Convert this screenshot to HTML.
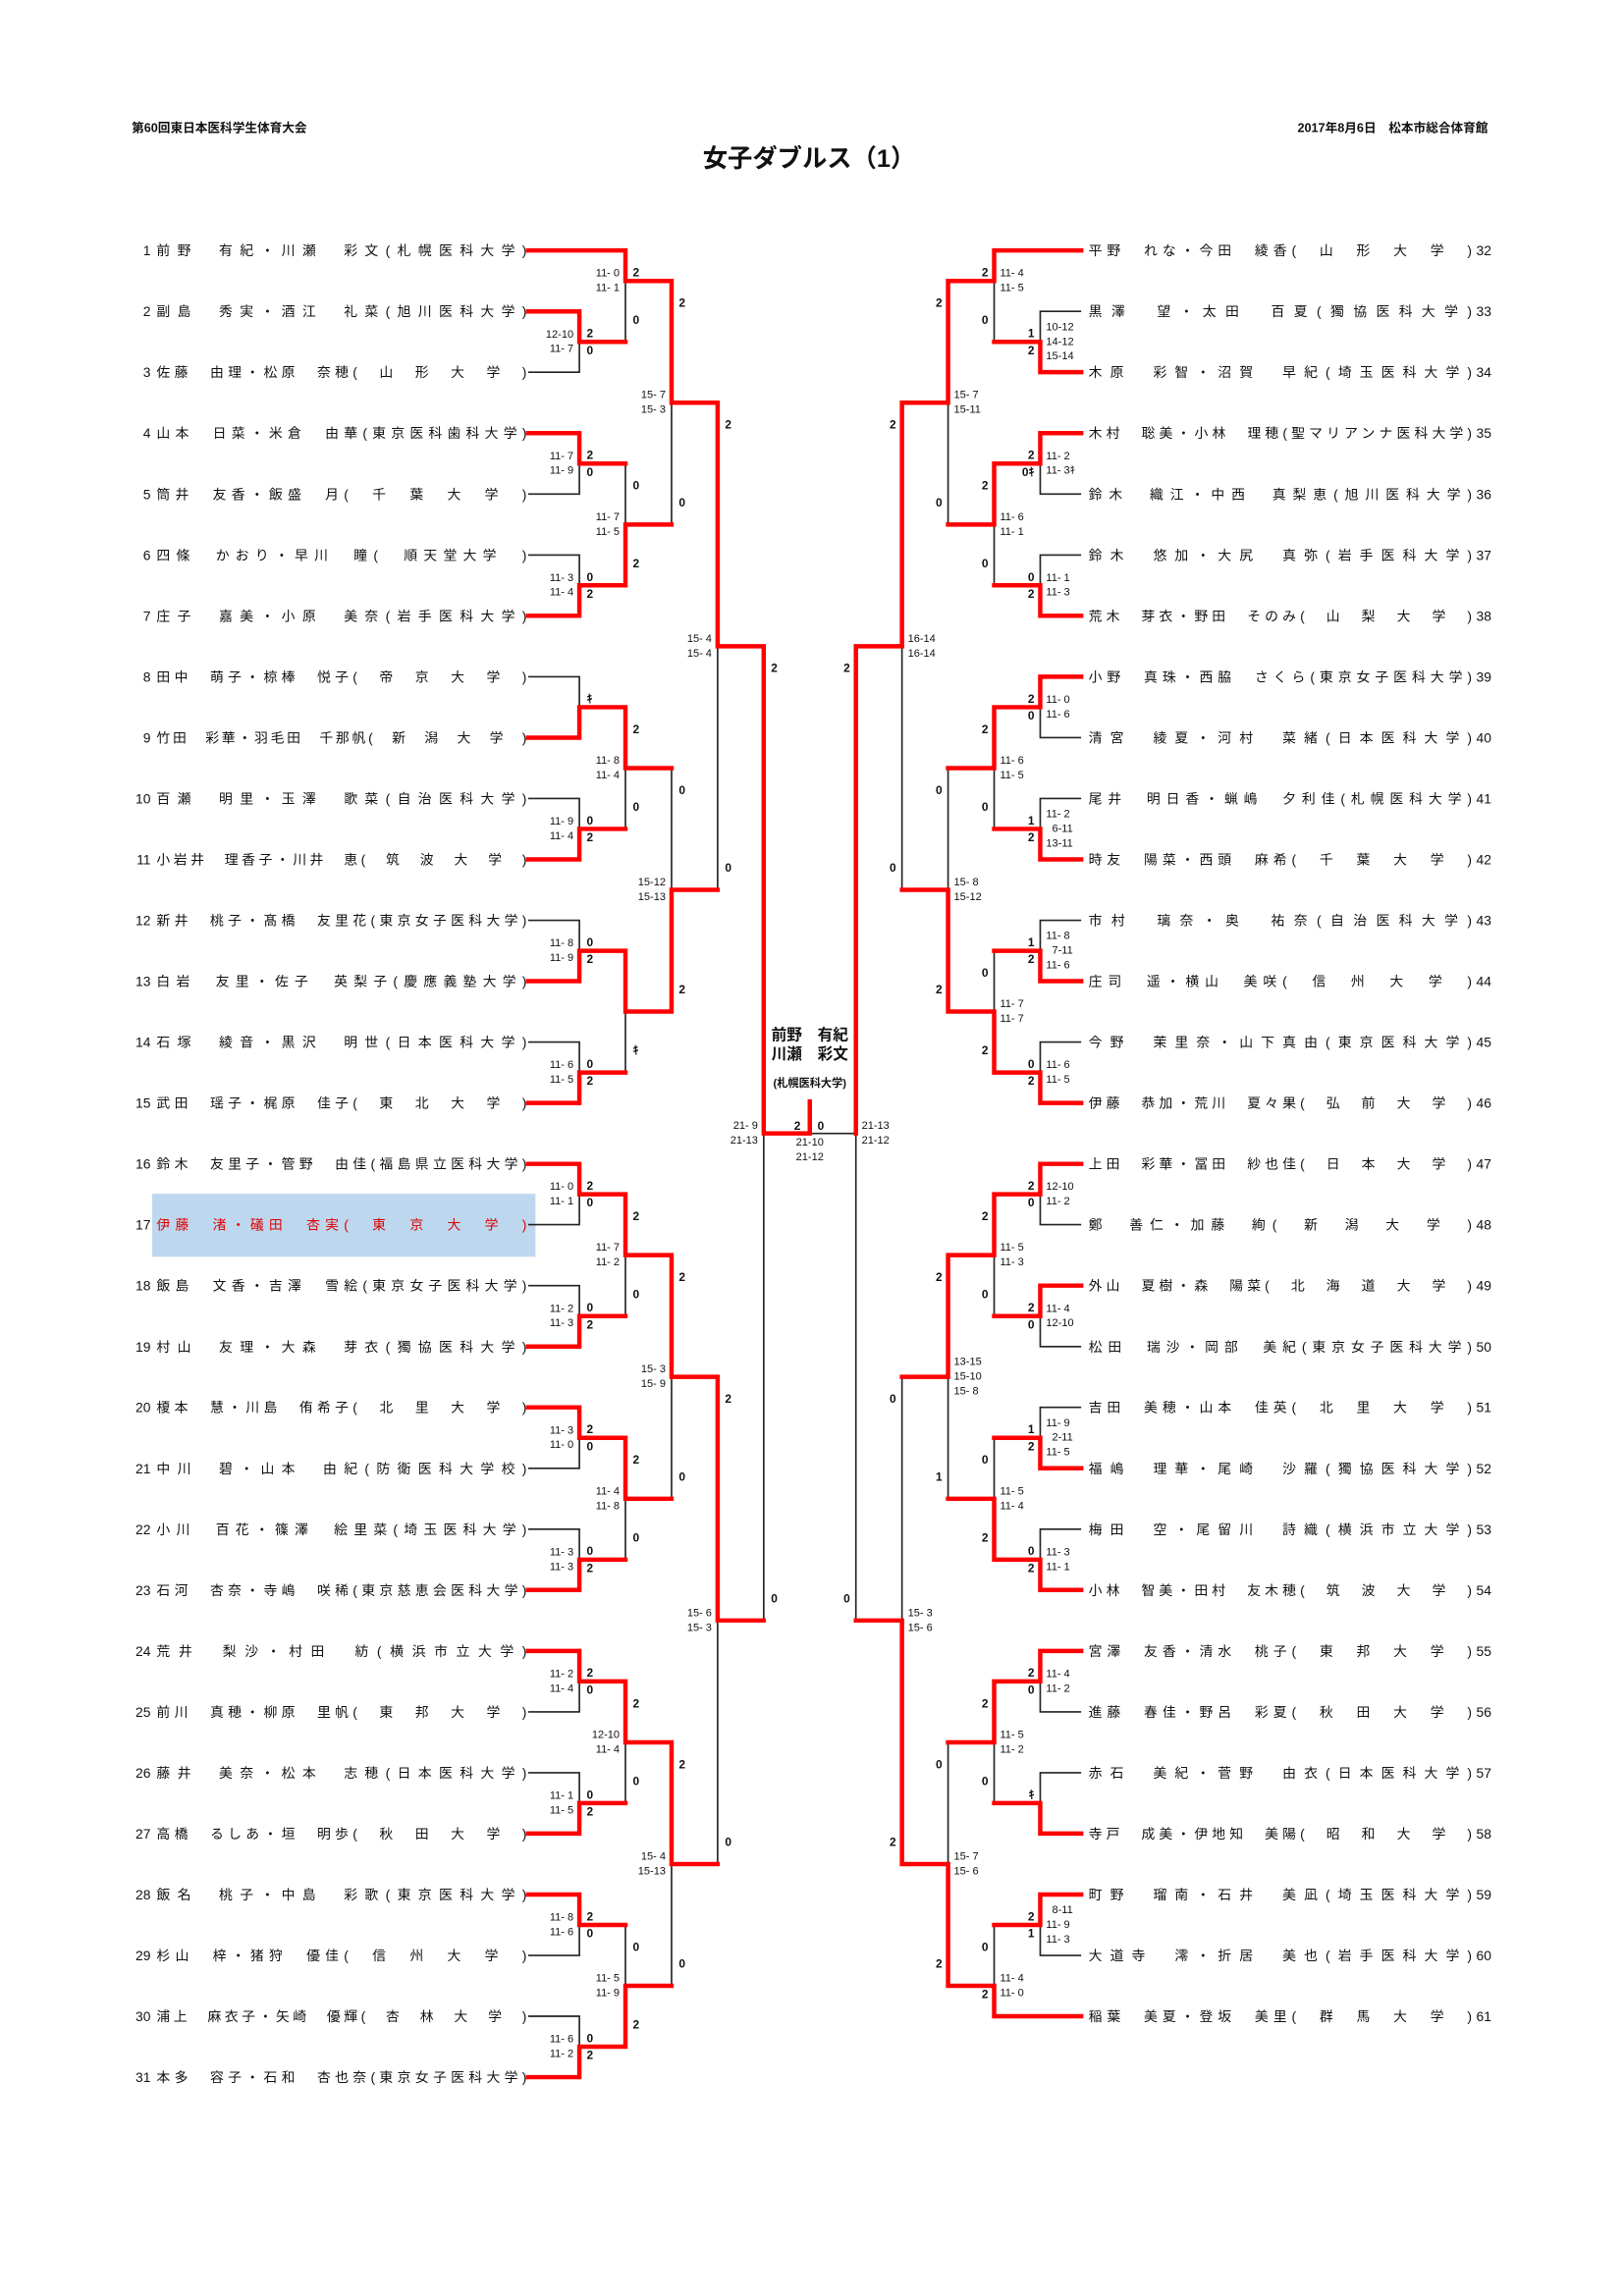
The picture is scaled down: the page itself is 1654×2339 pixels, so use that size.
<!DOCTYPE html>
<html><head><meta charset="utf-8"><style>
html,body{margin:0;padding:0;background:#fff;}
svg{display:block}
text{font-family:"Liberation Sans","Noto Sans CJK JP",sans-serif;fill:#111;white-space:pre}
.n{font-size:9.3px}
.s{font-size:7.4px;dominant-baseline:central}
.c{font-size:8px;font-weight:bold;dominant-baseline:central}
.e{text-anchor:end}
.m{text-anchor:middle}
.bk{fill:none;stroke:#222;stroke-width:1.1}
.rd{fill:none;stroke:#f00;stroke-width:3;stroke-linejoin:miter;stroke-linecap:square}
</style></head><body>
<svg width="1654" height="2339" viewBox="0 0 1110 1567.5" preserveAspectRatio="none" xmlns="http://www.w3.org/2000/svg">
<rect x="0" y="0" width="1110" height="1567.5" fill="#fff"/>
<text x="90" y="90" style="font-size:8.5px;font-weight:bold">第60回東日本医科学生体育大会</text>
<text x="1017" y="90" class="e" style="font-size:8.5px;font-weight:bold">2017年8月6日　松本市総合体育館</text>
<text x="553" y="114" class="m" style="font-size:17px;font-weight:bold">女子ダブルス（1）</text>

<rect x="104" y="815" width="262" height="43" fill="#bdd7ee"/>

<path class="bk" d="
M361 254.1H396V233.4 M361 337.3H396V316.5 M361 378.9H396V399.6 M361 462H396V482.8 M361 545.1H396V565.9 M361 628.3H396V649.1 M361 711.4H396V732.2 M361 836.1H396V815.3 M361 877.7H396V898.5 M361 1002.4H396V981.6 M361 1044H396V1064.8 M361 1168.7H396V1147.9 M361 1210.3H396V1231 M361 1335H396V1314.2 M361 1376.5H396V1397.3
M427.5 233.4V191.8 M427.5 316.5V358.1 M427.5 565.9V524.4 M427.5 732.2V690.6 M427.5 898.5V856.9 M427.5 1064.8V1023.2 M427.5 1231V1189.5 M427.5 1314.2V1355.7
M459 358.1V274.9 M459 524.4V607.5 M459 1023.2V940 M459 1355.7V1272.6
M490.5 607.5V441.2 M490.5 1272.6V1106.3
M522 1106.3V773.8
M585 1106.3V773.8H553.5
M616.5 607.5V441.2 M616.5 940V1106.3
M648 358.1V274.9 M648 524.4V607.5 M648 1023.2V940 M648 1189.5V1272.6
M679.5 233.4V191.8 M679.5 399.6V358.1 M679.5 565.9V524.4 M679.5 649.1V690.6 M679.5 898.5V856.9 M679.5 981.6V1023.2 M679.5 1231V1189.5 M679.5 1314.2V1355.7
M739 212.6H711V233.4 M739 337.3H711V316.5 M739 378.9H711V399.6 M739 503.6H711V482.8 M739 545.1H711V565.9 M739 628.3H711V649.1 M739 711.4H711V732.2 M739 836.1H711V815.3 M739 919.3H711V898.5 M739 960.8H711V981.6 M739 1044H711V1064.8 M739 1168.7H711V1147.9 M739 1210.3H711V1231 M739 1335H711V1314.2
"/>
<path class="rd" d="
M361 212.6H396V233.4H427.5 M361 295.7H396V316.5H427.5 M361 420.4H396V399.6H427.5 M361 503.6H396V482.8H427.5 M361 586.7H396V565.9H427.5 M361 669.8H396V649.1H427.5 M361 753H396V732.2H427.5 M361 794.6H396V815.3H427.5 M361 919.3H396V898.5H427.5 M361 960.8H396V981.6H427.5 M361 1085.5H396V1064.8H427.5 M361 1127.1H396V1147.9H427.5 M361 1251.8H396V1231H427.5 M361 1293.4H396V1314.2H427.5 M361 1418.1H396V1397.3H427.5
M361 171H427.5V191.8H459 M427.5 399.6V358.1H459 M427.5 482.8V524.4H459 M427.5 649.1V690.6H459 M427.5 815.3V856.9H459 M427.5 981.6V1023.2H459 M427.5 1147.9V1189.5H459 M427.5 1397.3V1355.7H459
M459 191.8V274.9H490.5 M459 690.6V607.5H490.5 M459 856.9V940H490.5 M459 1189.5V1272.6H490.5
M490.5 274.9V441.2H522 M490.5 940V1106.3H522
M522 441.2V773.8H553.5V752
M585 441.2V773.8
M616.5 274.9V441.2H585 M616.5 1272.6V1106.3H585
M648 191.8V274.9H616.5 M648 690.6V607.5H616.5 M648 856.9V940H616.5 M648 1355.7V1272.6H616.5
M739 171H679.5V191.8H648 M679.5 316.5V358.1H648 M679.5 482.8V524.4H648 M679.5 732.2V690.6H648 M679.5 815.3V856.9H648 M679.5 1064.8V1023.2H648 M679.5 1147.9V1189.5H648 M739 1376.5H679.5V1355.7H648
M739 254.1H711V233.4H679.5 M739 295.7H711V316.5H679.5 M739 420.4H711V399.6H679.5 M739 462H711V482.8H679.5 M739 586.7H711V565.9H679.5 M739 669.8H711V649.1H679.5 M739 753H711V732.2H679.5 M739 794.6H711V815.3H679.5 M739 877.7H711V898.5H679.5 M739 1002.4H711V981.6H679.5 M739 1085.5H711V1064.8H679.5 M739 1127.1H711V1147.9H679.5 M739 1251.8H711V1231H679.5 M739 1293.4H711V1314.2H679.5
"/>

<g class="n" style="dominant-baseline:central">
<text x="103" y="171" class="e">1</text><text x="107" y="171" textLength="253" lengthAdjust="spacing">前野　有紀・川瀬　彩文(札幌医科大学)</text>
<text x="103" y="212.6" class="e">2</text><text x="107" y="212.6" textLength="253" lengthAdjust="spacing">副島　秀実・酒江　礼菜(旭川医科大学)</text>
<text x="103" y="254.1" class="e">3</text><text x="107" y="254.1" textLength="253" lengthAdjust="spacing">佐藤　由理・松原　奈穂(　山　形　大　学　)</text>
<text x="103" y="295.7" class="e">4</text><text x="107" y="295.7" textLength="253" lengthAdjust="spacing">山本　日菜・米倉　由華(東京医科歯科大学)</text>
<text x="103" y="337.3" class="e">5</text><text x="107" y="337.3" textLength="253" lengthAdjust="spacing">筒井　友香・飯盛　月(　千　葉　大　学　)</text>
<text x="103" y="378.9" class="e">6</text><text x="107" y="378.9" textLength="253" lengthAdjust="spacing">四條　かおり・早川　瞳(　順天堂大学　)</text>
<text x="103" y="420.4" class="e">7</text><text x="107" y="420.4" textLength="253" lengthAdjust="spacing">庄子　嘉美・小原　美奈(岩手医科大学)</text>
<text x="103" y="462" class="e">8</text><text x="107" y="462" textLength="253" lengthAdjust="spacing">田中　萌子・椋棒　悦子(　帝　京　大　学　)</text>
<text x="103" y="503.6" class="e">9</text><text x="107" y="503.6" textLength="253" lengthAdjust="spacing">竹田　彩華・羽毛田　千那帆(　新　潟　大　学　)</text>
<text x="103" y="545.1" class="e">10</text><text x="107" y="545.1" textLength="253" lengthAdjust="spacing">百瀬　明里・玉澤　歌菜(自治医科大学)</text>
<text x="103" y="586.7" class="e">11</text><text x="107" y="586.7" textLength="253" lengthAdjust="spacing">小岩井　理香子・川井　恵(　筑　波　大　学　)</text>
<text x="103" y="628.3" class="e">12</text><text x="107" y="628.3" textLength="253" lengthAdjust="spacing">新井　桃子・髙橋　友里花(東京女子医科大学)</text>
<text x="103" y="669.8" class="e">13</text><text x="107" y="669.8" textLength="253" lengthAdjust="spacing">白岩　友里・佐子　英梨子(慶應義塾大学)</text>
<text x="103" y="711.4" class="e">14</text><text x="107" y="711.4" textLength="253" lengthAdjust="spacing">石塚　綾音・黒沢　明世(日本医科大学)</text>
<text x="103" y="753" class="e">15</text><text x="107" y="753" textLength="253" lengthAdjust="spacing">武田　瑶子・梶原　佳子(　東　北　大　学　)</text>
<text x="103" y="794.6" class="e">16</text><text x="107" y="794.6" textLength="253" lengthAdjust="spacing">鈴木　友里子・管野　由佳(福島県立医科大学)</text>
<text x="103" y="836.1" class="e">17</text><text x="107" y="836.1" textLength="253" lengthAdjust="spacing" style="fill:#e00000">伊藤　渚・礒田　杏実(　東　京　大　学　)</text>
<text x="103" y="877.7" class="e">18</text><text x="107" y="877.7" textLength="253" lengthAdjust="spacing">飯島　文香・吉澤　雪絵(東京女子医科大学)</text>
<text x="103" y="919.3" class="e">19</text><text x="107" y="919.3" textLength="253" lengthAdjust="spacing">村山　友理・大森　芽衣(獨協医科大学)</text>
<text x="103" y="960.8" class="e">20</text><text x="107" y="960.8" textLength="253" lengthAdjust="spacing">榎本　慧・川島　侑希子(　北　里　大　学　)</text>
<text x="103" y="1002.4" class="e">21</text><text x="107" y="1002.4" textLength="253" lengthAdjust="spacing">中川　碧・山本　由紀(防衛医科大学校)</text>
<text x="103" y="1044" class="e">22</text><text x="107" y="1044" textLength="253" lengthAdjust="spacing">小川　百花・篠澤　絵里菜(埼玉医科大学)</text>
<text x="103" y="1085.5" class="e">23</text><text x="107" y="1085.5" textLength="253" lengthAdjust="spacing">石河　杏奈・寺嶋　咲稀(東京慈恵会医科大学)</text>
<text x="103" y="1127.1" class="e">24</text><text x="107" y="1127.1" textLength="253" lengthAdjust="spacing">荒井　梨沙・村田　紡(横浜市立大学)</text>
<text x="103" y="1168.7" class="e">25</text><text x="107" y="1168.7" textLength="253" lengthAdjust="spacing">前川　真穂・柳原　里帆(　東　邦　大　学　)</text>
<text x="103" y="1210.3" class="e">26</text><text x="107" y="1210.3" textLength="253" lengthAdjust="spacing">藤井　美奈・松本　志穂(日本医科大学)</text>
<text x="103" y="1251.8" class="e">27</text><text x="107" y="1251.8" textLength="253" lengthAdjust="spacing">高橋　るしあ・垣　明歩(　秋　田　大　学　)</text>
<text x="103" y="1293.4" class="e">28</text><text x="107" y="1293.4" textLength="253" lengthAdjust="spacing">飯名　桃子・中島　彩歌(東京医科大学)</text>
<text x="103" y="1335" class="e">29</text><text x="107" y="1335" textLength="253" lengthAdjust="spacing">杉山　梓・猪狩　優佳(　信　州　大　学　)</text>
<text x="103" y="1376.5" class="e">30</text><text x="107" y="1376.5" textLength="253" lengthAdjust="spacing">浦上　麻衣子・矢崎　優輝(　杏　林　大　学　)</text>
<text x="103" y="1418.1" class="e">31</text><text x="107" y="1418.1" textLength="253" lengthAdjust="spacing">本多　容子・石和　杏也奈(東京女子医科大学)</text>
</g>

<g class="n" style="dominant-baseline:central">
<text x="744" y="171" textLength="262" lengthAdjust="spacing">平野　れな・今田　綾香(　山　形　大　学　)</text><text x="1009" y="171">32</text>
<text x="744" y="212.6" textLength="262" lengthAdjust="spacing">黒澤　望・太田　百夏(獨協医科大学)</text><text x="1009" y="212.6">33</text>
<text x="744" y="254.1" textLength="262" lengthAdjust="spacing">木原　彩智・沼賀　早紀(埼玉医科大学)</text><text x="1009" y="254.1">34</text>
<text x="744" y="295.7" textLength="262" lengthAdjust="spacing">木村　聡美・小林　理穂(聖マリアンナ医科大学)</text><text x="1009" y="295.7">35</text>
<text x="744" y="337.3" textLength="262" lengthAdjust="spacing">鈴木　織江・中西　真梨恵(旭川医科大学)</text><text x="1009" y="337.3">36</text>
<text x="744" y="378.9" textLength="262" lengthAdjust="spacing">鈴木　悠加・大尻　真弥(岩手医科大学)</text><text x="1009" y="378.9">37</text>
<text x="744" y="420.4" textLength="262" lengthAdjust="spacing">荒木　芽衣・野田　そのみ(　山　梨　大　学　)</text><text x="1009" y="420.4">38</text>
<text x="744" y="462" textLength="262" lengthAdjust="spacing">小野　真珠・西脇　さくら(東京女子医科大学)</text><text x="1009" y="462">39</text>
<text x="744" y="503.6" textLength="262" lengthAdjust="spacing">清宮　綾夏・河村　菜緒(日本医科大学)</text><text x="1009" y="503.6">40</text>
<text x="744" y="545.1" textLength="262" lengthAdjust="spacing">尾井　明日香・蝋嶋　夕利佳(札幌医科大学)</text><text x="1009" y="545.1">41</text>
<text x="744" y="586.7" textLength="262" lengthAdjust="spacing">時友　陽菜・西頭　麻希(　千　葉　大　学　)</text><text x="1009" y="586.7">42</text>
<text x="744" y="628.3" textLength="262" lengthAdjust="spacing">市村　璃奈・奥　祐奈(自治医科大学)</text><text x="1009" y="628.3">43</text>
<text x="744" y="669.8" textLength="262" lengthAdjust="spacing">庄司　遥・横山　美咲(　信　州　大　学　)</text><text x="1009" y="669.8">44</text>
<text x="744" y="711.4" textLength="262" lengthAdjust="spacing">今野　茉里奈・山下真由(東京医科大学)</text><text x="1009" y="711.4">45</text>
<text x="744" y="753" textLength="262" lengthAdjust="spacing">伊藤　恭加・荒川　夏々果(　弘　前　大　学　)</text><text x="1009" y="753">46</text>
<text x="744" y="794.6" textLength="262" lengthAdjust="spacing">上田　彩華・冨田　紗也佳(　日　本　大　学　)</text><text x="1009" y="794.6">47</text>
<text x="744" y="836.1" textLength="262" lengthAdjust="spacing">鄭　善仁・加藤　絢(　新　潟　大　学　)</text><text x="1009" y="836.1">48</text>
<text x="744" y="877.7" textLength="262" lengthAdjust="spacing">外山　夏樹・森　陽菜(　北　海　道　大　学　)</text><text x="1009" y="877.7">49</text>
<text x="744" y="919.3" textLength="262" lengthAdjust="spacing">松田　瑞沙・岡部　美紀(東京女子医科大学)</text><text x="1009" y="919.3">50</text>
<text x="744" y="960.8" textLength="262" lengthAdjust="spacing">吉田　美穂・山本　佳英(　北　里　大　学　)</text><text x="1009" y="960.8">51</text>
<text x="744" y="1002.4" textLength="262" lengthAdjust="spacing">福嶋　理華・尾崎　沙羅(獨協医科大学)</text><text x="1009" y="1002.4">52</text>
<text x="744" y="1044" textLength="262" lengthAdjust="spacing">梅田　空・尾留川　詩織(横浜市立大学)</text><text x="1009" y="1044">53</text>
<text x="744" y="1085.5" textLength="262" lengthAdjust="spacing">小林　智美・田村　友木穂(　筑　波　大　学　)</text><text x="1009" y="1085.5">54</text>
<text x="744" y="1127.1" textLength="262" lengthAdjust="spacing">宮澤　友香・清水　桃子(　東　邦　大　学　)</text><text x="1009" y="1127.1">55</text>
<text x="744" y="1168.7" textLength="262" lengthAdjust="spacing">進藤　春佳・野呂　彩夏(　秋　田　大　学　)</text><text x="1009" y="1168.7">56</text>
<text x="744" y="1210.3" textLength="262" lengthAdjust="spacing">赤石　美紀・菅野　由衣(日本医科大学)</text><text x="1009" y="1210.3">57</text>
<text x="744" y="1251.8" textLength="262" lengthAdjust="spacing">寺戸　成美・伊地知　美陽(　昭　和　大　学　)</text><text x="1009" y="1251.8">58</text>
<text x="744" y="1293.4" textLength="262" lengthAdjust="spacing">町野　瑠南・石井　美凪(埼玉医科大学)</text><text x="1009" y="1293.4">59</text>
<text x="744" y="1335" textLength="262" lengthAdjust="spacing">大道寺　澪・折居　美也(岩手医科大学)</text><text x="1009" y="1335">60</text>
<text x="744" y="1376.5" textLength="262" lengthAdjust="spacing">稲葉　美夏・登坂　美里(　群　馬　大　学　)</text><text x="1009" y="1376.5">61</text>
</g>

<g class="s e">
<text x="392" y="228.4">12-10</text><text x="392" y="238.4">11- 7</text>
<text x="392" y="311.5">11- 7</text><text x="392" y="321.5">11- 9</text>
<text x="392" y="394.6">11- 3</text><text x="392" y="404.6">11- 4</text>
<text x="392" y="560.9">11- 9</text><text x="392" y="570.9">11- 4</text>
<text x="392" y="644.1">11- 8</text><text x="392" y="654.1">11- 9</text>
<text x="392" y="727.2">11- 6</text><text x="392" y="737.2">11- 5</text>
<text x="392" y="810.3">11- 0</text><text x="392" y="820.3">11- 1</text>
<text x="392" y="893.5">11- 2</text><text x="392" y="903.5">11- 3</text>
<text x="392" y="976.6">11- 3</text><text x="392" y="986.6">11- 0</text>
<text x="392" y="1059.8">11- 3</text><text x="392" y="1069.8">11- 3</text>
<text x="392" y="1142.9">11- 2</text><text x="392" y="1152.9">11- 4</text>
<text x="392" y="1226">11- 1</text><text x="392" y="1236">11- 5</text>
<text x="392" y="1309.2">11- 8</text><text x="392" y="1319.2">11- 6</text>
<text x="392" y="1392.3">11- 6</text><text x="392" y="1402.3">11- 2</text>
<text x="423.5" y="186.8">11- 0</text><text x="423.5" y="196.8">11- 1</text>
<text x="423.5" y="353.1">11- 7</text><text x="423.5" y="363.1">11- 5</text>
<text x="423.5" y="519.4">11- 8</text><text x="423.5" y="529.4">11- 4</text>
<text x="423.5" y="851.9">11- 7</text><text x="423.5" y="861.9">11- 2</text>
<text x="423.5" y="1018.2">11- 4</text><text x="423.5" y="1028.2">11- 8</text>
<text x="423.5" y="1184.5">12-10</text><text x="423.5" y="1194.5">11- 4</text>
<text x="423.5" y="1350.7">11- 5</text><text x="423.5" y="1360.7">11- 9</text>
<text x="455" y="269.9">15- 7</text><text x="455" y="279.9">15- 3</text>
<text x="455" y="602.5">15-12</text><text x="455" y="612.5">15-13</text>
<text x="455" y="935">15- 3</text><text x="455" y="945">15- 9</text>
<text x="455" y="1267.6">15- 4</text><text x="455" y="1277.6">15-13</text>
<text x="486.5" y="436.2">15- 4</text><text x="486.5" y="446.2">15- 4</text>
<text x="486.5" y="1101.3">15- 6</text><text x="486.5" y="1111.3">15- 3</text>
<text x="518" y="768.8">21- 9</text><text x="518" y="778.8">21-13</text>
</g>
<g class="c">
<text x="401" y="227.6">2</text><text x="401" y="239.1">0</text>
<text x="401" y="310.7">2</text><text x="401" y="322.3">0</text>
<text x="401" y="393.9">0</text><text x="401" y="405.4">2</text>
<text x="401" y="477">ｷ</text>
<text x="401" y="560.1">0</text><text x="401" y="571.7">2</text>
<text x="401" y="643.3">0</text><text x="401" y="654.8">2</text>
<text x="401" y="726.4">0</text><text x="401" y="738">2</text>
<text x="401" y="809.6">2</text><text x="401" y="821.1">0</text>
<text x="401" y="892.7">0</text><text x="401" y="904.3">2</text>
<text x="401" y="975.8">2</text><text x="401" y="987.4">0</text>
<text x="401" y="1059">0</text><text x="401" y="1070.5">2</text>
<text x="401" y="1142.1">2</text><text x="401" y="1153.7">0</text>
<text x="401" y="1225.3">0</text><text x="401" y="1236.8">2</text>
<text x="401" y="1308.4">2</text><text x="401" y="1320">0</text>
<text x="401" y="1391.5">0</text><text x="401" y="1403.1">2</text>
<text x="432.5" y="186">2</text><text x="432.5" y="218.4">0</text>
<text x="432.5" y="331.5">0</text><text x="432.5" y="384.6">2</text>
<text x="432.5" y="497.8">2</text><text x="432.5" y="550.9">0</text>
<text x="432.5" y="717.2">ｷ</text>
<text x="432.5" y="830.3">2</text><text x="432.5" y="883.5">0</text>
<text x="432.5" y="996.6">2</text><text x="432.5" y="1049.8">0</text>
<text x="432.5" y="1162.9">2</text><text x="432.5" y="1216">0</text>
<text x="432.5" y="1329.2">0</text><text x="432.5" y="1382.3">2</text>
<text x="464" y="206.8">2</text><text x="464" y="343.1">0</text>
<text x="464" y="539.4">0</text><text x="464" y="675.6">2</text>
<text x="464" y="871.9">2</text><text x="464" y="1008.2">0</text>
<text x="464" y="1204.5">2</text><text x="464" y="1340.7">0</text>
<text x="495.5" y="289.9">2</text><text x="495.5" y="592.5">0</text>
<text x="495.5" y="955">2</text><text x="495.5" y="1257.6">0</text>
<text x="527" y="456.2">2</text><text x="527" y="1091.3">0</text>
</g>

<g class="s">
<text x="589" y="768.8">21-13</text><text x="589" y="778.8">21-12</text>
<text x="620.5" y="436.2">16-14</text><text x="620.5" y="446.2">16-14</text>
<text x="620.5" y="1101.3">15- 3</text><text x="620.5" y="1111.3">15- 6</text>
<text x="652" y="269.9">15- 7</text><text x="652" y="279.9">15-11</text>
<text x="652" y="602.5">15- 8</text><text x="652" y="612.5">15-12</text>
<text x="652" y="930">13-15</text><text x="652" y="940">15-10</text><text x="652" y="950">15- 8</text>
<text x="652" y="1267.6">15- 7</text><text x="652" y="1277.6">15- 6</text>
<text x="683.5" y="186.8">11- 4</text><text x="683.5" y="196.8">11- 5</text>
<text x="683.5" y="353.1">11- 6</text><text x="683.5" y="363.1">11- 1</text>
<text x="683.5" y="519.4">11- 6</text><text x="683.5" y="529.4">11- 5</text>
<text x="683.5" y="685.6">11- 7</text><text x="683.5" y="695.6">11- 7</text>
<text x="683.5" y="851.9">11- 5</text><text x="683.5" y="861.9">11- 3</text>
<text x="683.5" y="1018.2">11- 5</text><text x="683.5" y="1028.2">11- 4</text>
<text x="683.5" y="1184.5">11- 5</text><text x="683.5" y="1194.5">11- 2</text>
<text x="683.5" y="1350.7">11- 4</text><text x="683.5" y="1360.7">11- 0</text>
<text x="715" y="223.4">10-12</text><text x="715" y="233.4">14-12</text><text x="715" y="243.4">15-14</text>
<text x="715" y="311.5">11- 2</text><text x="715" y="321.5">11- 3ｷ</text>
<text x="715" y="394.6">11- 1</text><text x="715" y="404.6">11- 3</text>
<text x="715" y="477.8">11- 0</text><text x="715" y="487.8">11- 6</text>
<text x="715" y="555.9">11- 2</text><text x="715" y="565.9">  6-11</text><text x="715" y="575.9">13-11</text>
<text x="715" y="639.1">11- 8</text><text x="715" y="649.1">  7-11</text><text x="715" y="659.1">11- 6</text>
<text x="715" y="727.2">11- 6</text><text x="715" y="737.2">11- 5</text>
<text x="715" y="810.3">12-10</text><text x="715" y="820.3">11- 2</text>
<text x="715" y="893.5">11- 4</text><text x="715" y="903.5">12-10</text>
<text x="715" y="971.6">11- 9</text><text x="715" y="981.6">  2-11</text><text x="715" y="991.6">11- 5</text>
<text x="715" y="1059.8">11- 3</text><text x="715" y="1069.8">11- 1</text>
<text x="715" y="1142.9">11- 4</text><text x="715" y="1152.9">11- 2</text>
<text x="715" y="1304.2">  8-11</text><text x="715" y="1314.2">11- 9</text><text x="715" y="1324.2">11- 3</text>
</g>
<g class="c e">
<text x="581" y="456.2">2</text><text x="581" y="1091.3">0</text>
<text x="612.5" y="289.9">2</text><text x="612.5" y="592.5">0</text>
<text x="612.5" y="955">0</text><text x="612.5" y="1257.6">2</text>
<text x="644" y="206.8">2</text><text x="644" y="343.1">0</text>
<text x="644" y="539.4">0</text><text x="644" y="675.6">2</text>
<text x="644" y="871.9">2</text><text x="644" y="1008.2">1</text>
<text x="644" y="1204.5">0</text><text x="644" y="1340.7">2</text>
<text x="675.5" y="186">2</text><text x="675.5" y="218.4">0</text>
<text x="675.5" y="331.5">2</text><text x="675.5" y="384.6">0</text>
<text x="675.5" y="497.8">2</text><text x="675.5" y="550.9">0</text>
<text x="675.5" y="664.1">0</text><text x="675.5" y="717.2">2</text>
<text x="675.5" y="830.3">2</text><text x="675.5" y="883.5">0</text>
<text x="675.5" y="996.6">0</text><text x="675.5" y="1049.8">2</text>
<text x="675.5" y="1162.9">2</text><text x="675.5" y="1216">0</text>
<text x="675.5" y="1329.2">0</text><text x="675.5" y="1361.5">2</text>
<text x="707" y="227.6">1</text><text x="707" y="239.1">2</text>
<text x="707" y="310.7">2</text><text x="707" y="322.3">0ｷ</text>
<text x="707" y="393.9">0</text><text x="707" y="405.4">2</text>
<text x="707" y="477">2</text><text x="707" y="488.6">0</text>
<text x="707" y="560.1">1</text><text x="707" y="571.7">2</text>
<text x="707" y="643.3">1</text><text x="707" y="654.8">2</text>
<text x="707" y="726.4">0</text><text x="707" y="738">2</text>
<text x="707" y="809.6">2</text><text x="707" y="821.1">0</text>
<text x="707" y="892.7">2</text><text x="707" y="904.3">0</text>
<text x="707" y="975.8">1</text><text x="707" y="987.4">2</text>
<text x="707" y="1059">0</text><text x="707" y="1070.5">2</text>
<text x="707" y="1142.1">2</text><text x="707" y="1153.7">0</text>
<text x="707" y="1225.3">ｷ</text>
<text x="707" y="1308.4">2</text><text x="707" y="1320">1</text>
</g>

<text x="553.5" y="710" class="m" style="font-size:10.5px;font-weight:bold">前野　有紀</text>
<text x="553.5" y="723" class="m" style="font-size:10.5px;font-weight:bold">川瀬　彩文</text>
<text x="553.5" y="742" class="m" style="font-size:7.5px;font-weight:bold">(札幌医科大学)</text>
<text x="545" y="768.8" class="c m">2</text><text x="561" y="768.8" class="c m">0</text>
<text x="553.5" y="780" class="s m">21-10</text><text x="553.5" y="790" class="s m">21-12</text>
</svg>
</body></html>
